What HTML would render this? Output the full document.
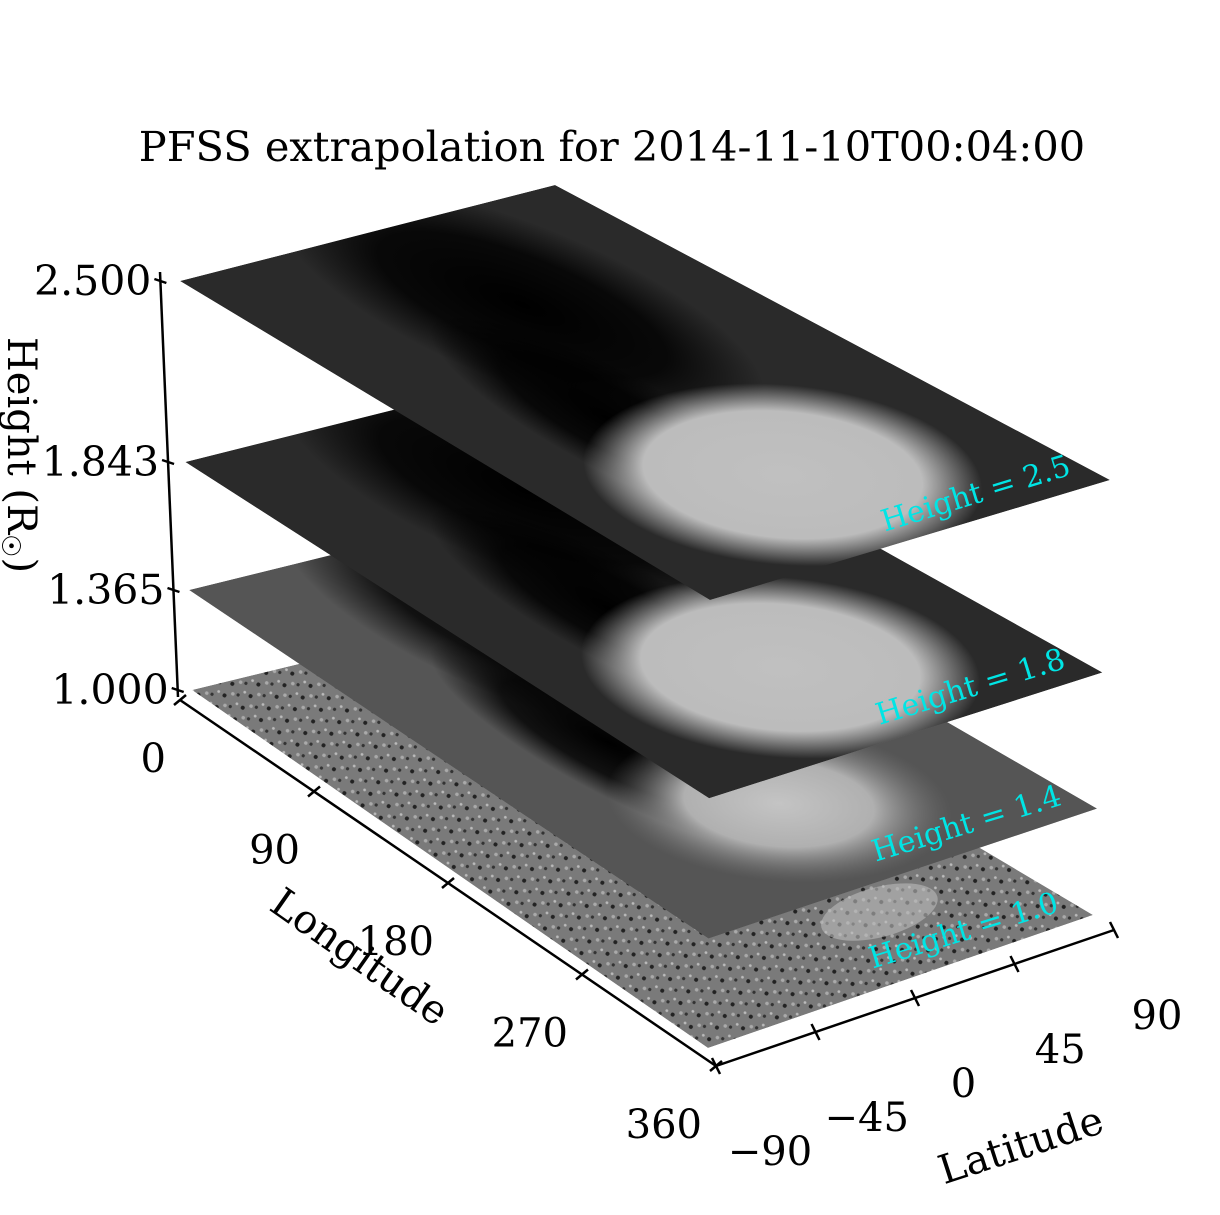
<!DOCTYPE html>
<html><head><meta charset="utf-8">
<style>
html,body{margin:0;padding:0;background:#fff;}
svg{display:block;font-family:"DejaVu Serif","Liberation Serif",serif;}
</style></head>
<body>
<svg id="chart" width="1220" height="1215" viewBox="0 0 1220 1215">
<defs>
  <radialGradient id="blob" cx="0.5" cy="0.5" r="0.5">
    <stop offset="0" stop-color="#c0c0c0"/>
    <stop offset="0.7" stop-color="#bcbcbc"/>
    <stop offset="1" stop-color="#bcbcbc" stop-opacity="0"/>
  </radialGradient>
  <radialGradient id="blobDim" cx="0.5" cy="0.5" r="0.5">
    <stop offset="0" stop-color="#c4c4c4"/>
    <stop offset="0.55" stop-color="#b0b0b0"/>
    <stop offset="1" stop-color="#777" stop-opacity="0"/>
  </radialGradient>
  <radialGradient id="dark" cx="0.5" cy="0.5" r="0.5">
    <stop offset="0" stop-color="#000"/>
    <stop offset="0.6" stop-color="#000" stop-opacity="0.8"/>
    <stop offset="1" stop-color="#000" stop-opacity="0"/>
  </radialGradient>
  <pattern id="noise" width="22" height="14" patternUnits="userSpaceOnUse" patternTransform="rotate(34)">
    <rect width="22" height="14" fill="#7a7a7a"/>
    <circle cx="3" cy="3" r="2" fill="#222"/>
    <circle cx="14" cy="9" r="1.6" fill="#333"/>
    <circle cx="9" cy="11" r="1.8" fill="#aaa"/>
    <circle cx="18" cy="3" r="1.4" fill="#bbb"/>
  </pattern>
</defs>
<text x="612" y="161" font-size="41.5" text-anchor="middle" fill="#000">PFSS extrapolation for 2014-11-10T00:04:00</text>
<g id="layers"></g>
<g id="axes"></g>
</svg>
<script>
const layerHeights = [1.0, 1.365, 1.843, 2.5];
const layerLabels = ["Height = 1.0", "Height = 1.4", "Height = 1.8", "Height = 2.5"];
const heightTicks = [1.0, 1.365, 1.843, 2.5];
const heightTickLabels = ["1.000", "1.365", "1.843", "2.500"];
const lonTicks = [0, 90, 180, 270, 360];
const latTicks = [-90, -45, 0, 45, 90];
const blobBrightness = [0, 0.55, 1, 1];

const NS = "http://www.w3.org/2000/svg";
function mk(tag, attrs, parent){const e=document.createElementNS(NS,tag);for(const k in attrs)e.setAttribute(k,attrs[k]);parent.appendChild(e);return e;}
function zY(h){const hs=[1.0,1.365,1.843,2.5],ys=[690,590,462,281];
  for(let i=0;i<3;i++){if(h<=hs[i+1]){const t=(h-hs[i])/(hs[i+1]-hs[i]);return ys[i]+t*(ys[i+1]-ys[i]);}}return 281;}
function zFrac(h){return (zY(h)-690)/(281-690);}
const c0={L:[192,690],T:[562,600],R:[1093,915],B:[708,1048]};
const c1={L:[180,281],T:[555,185],R:[1110,480],B:[710,600]};
function corners(h){const f=zFrac(h),o={};for(const k in c0)o[k]=[c0[k][0]+f*(c1[k][0]-c0[k][0]),c0[k][1]+f*(c1[k][1]-c0[k][1])];return o;}
function pt(c,u,v){
  const a=[c.L[0]+u*(c.B[0]-c.L[0]),c.L[1]+u*(c.B[1]-c.L[1])];
  const b=[c.T[0]+u*(c.R[0]-c.T[0]),c.T[1]+u*(c.R[1]-c.T[1])];
  return [a[0]+v*(b[0]-a[0]),a[1]+v*(b[1]-a[1])];}

const layersG=document.getElementById('layers');
layerHeights.forEach((h,i)=>{
  const c=corners(h);
  const g=mk('g',{},layersG);
  
  
  const pts=[c.L,c.T,c.R,c.B].map(p=>p.join(',')).join(' ');
  const cp=mk('clipPath',{id:'clip'+i},g);
  mk('polygon',{points:pts},cp);
  const inner=mk('g',{'clip-path':'url(#clip'+i+')'},g);
  if(i===0){
    mk('polygon',{points:pts,fill:'url(#noise)'},inner);
    const w=pt(c,0.85,0.65);
    mk('ellipse',{cx:w[0],cy:w[1],rx:60,ry:25,fill:'#bbb',opacity:0.6,transform:`rotate(-15 ${w[0]} ${w[1]})`},inner);
  } else {
    mk('polygon',{points:pts,fill:i===1?'#555':'#2a2a2a'},inner);
    const d=pt(c,0.25,0.55);
    mk('ellipse',{cx:d[0],cy:d[1],rx:260,ry:80,fill:'url(#dark)',transform:`rotate(22 ${d[0]} ${d[1]})`},inner);
    const d2=pt(c,0.55,0.35);
    mk('ellipse',{cx:d2[0],cy:d2[1],rx:200,ry:50,fill:'url(#dark)',transform:`rotate(28 ${d2[0]} ${d2[1]})`},inner);
    const b=pt(c,0.78,0.48);
    const br=blobBrightness[i];
    mk('ellipse',{cx:b[0],cy:b[1],rx:200*(0.7+0.3*br),ry:90*(0.7+0.3*br),fill:br<1?'url(#blobDim)':'url(#blob)',transform:`rotate(5 ${b[0]} ${b[1]})`},inner);
  }
  const lp=pt(c,0.95,0.75);
  const t=mk('text',{x:lp[0]-4,y:lp[1]+8,'font-size':30,fill:'#00e5e5','text-anchor':'middle',transform:`rotate(-17 ${lp[0]-4} ${lp[1]+8})`},g);
  t.textContent=layerLabels[i];
  
  
});

const ax=document.getElementById('axes');
const zl=mk('line',{x1:160,y1:272,x2:178,y2:697,stroke:'#000','stroke-width':2.5},ax);


heightTicks.forEach((h,i)=>{
  const y=zY(h);const x=160+(y-272)/(697-272)*18;
  mk('line',{x1:x-6,y1:y-2,x2:x+6,y2:y+2,stroke:'#000','stroke-width':2.5},ax);
  const t=mk('text',{x:x-9,y:y+14,'font-size':41,'text-anchor':'end'},ax);
  t.textContent=heightTickLabels[i];
  
  
});
const zt=mk('text',{x:0,y:0,'font-size':40,'text-anchor':'middle',transform:'translate(8 455) rotate(90)'},ax);
zt.innerHTML='Height (R<tspan font-size="26" dy="6">☉</tspan><tspan dy="-6">)</tspan>';


const LA=[180,700],LB=[716,1066],RA=[1114,930];
const ll=mk('line',{x1:LA[0],y1:LA[1],x2:LB[0],y2:LB[1],stroke:'#000','stroke-width':2.5},ax);


lonTicks.forEach(v=>{
  const f=v/360;const x=LA[0]+f*(LB[0]-LA[0]),y=LA[1]+f*(LB[1]-LA[1]);
  mk('line',{x1:x-6,y1:y+5,x2:x+6,y2:y-5,stroke:'#000','stroke-width':2.5},ax);
  const t=mk('text',{x:x-14,y:y+72,'font-size':40,'text-anchor':'end'},ax);
  t.textContent=v;
  
  
});
const lt=mk('text',{x:0,y:0,'font-size':40,'text-anchor':'middle',transform:'translate(352 968) rotate(35)'},ax);
lt.textContent='Longitude';


const la=mk('line',{x1:LB[0],y1:LB[1],x2:RA[0],y2:RA[1],stroke:'#000','stroke-width':2.5},ax);


latTicks.forEach(v=>{
  const f=(v+90)/180;const x=LB[0]+f*(RA[0]-LB[0]),y=LB[1]+f*(RA[1]-LB[1]);
  mk('line',{x1:x-4,y1:y-8,x2:x+4,y2:y+8,stroke:'#000','stroke-width':2.5},ax);
  const t=mk('text',{x:x+54-f*11,y:y+99,'font-size':40,'text-anchor':'middle'},ax);
  t.textContent=v<0?'\u2212'+(-v):v;
  
  
});
const at=mk('text',{x:0,y:0,'font-size':40,'text-anchor':'middle',transform:'translate(1025 1158) rotate(-18)'},ax);
at.textContent='Latitude';


</script>
</body></html>
